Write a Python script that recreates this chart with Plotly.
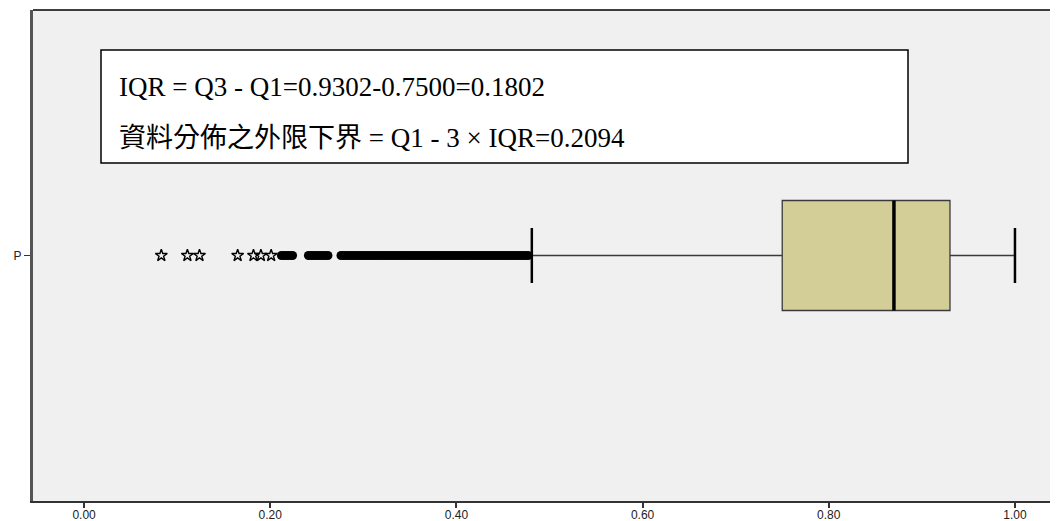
import plotly.graph_objects as go

# ---- data ----
category = "P"
q1 = 0.7500
median = 0.870
q3 = 0.9302
lower_whisker = 0.481
upper_whisker = 1.000

# extreme values (stars, below Q1 - 3*IQR)
extremes = [0.083, 0.111, 0.124, 0.165, 0.182, 0.190, 0.201]

# outliers (circles, between Q1 - 3*IQR and Q1 - 1.5*IQR)
outliers = [0.212, 0.215, 0.218, 0.221, 0.224,
            0.241, 0.244, 0.247, 0.250, 0.253, 0.256, 0.259, 0.262,
            0.276, 0.279, 0.282, 0.285, 0.288, 0.291, 0.294, 0.297, 0.300,
            0.303, 0.306, 0.309, 0.312, 0.315, 0.318, 0.321, 0.324, 0.327,
            0.330, 0.333, 0.336, 0.339, 0.342, 0.345, 0.348, 0.351, 0.354,
            0.357, 0.360, 0.363, 0.366, 0.369, 0.372, 0.375, 0.378, 0.381,
            0.384, 0.387, 0.390, 0.393, 0.396, 0.399, 0.402, 0.405, 0.408,
            0.411, 0.414, 0.417, 0.420, 0.423, 0.426, 0.429, 0.432, 0.435,
            0.438, 0.441, 0.444, 0.447, 0.450, 0.453, 0.456, 0.459, 0.462,
            0.465, 0.468, 0.471, 0.474, 0.477]

x_ticks = [0.0, 0.2, 0.4, 0.6, 0.8, 1.0]
x_ticktext = [f"{v:.2f}" for v in x_ticks]

line1 = "IQR = Q3 - Q1=0.9302-0.7500=0.1802"
line2 = "資料分佈之外限下界 = Q1 - 3 × IQR=0.2094"

# ---- style ----
OFF = 8                      # page body margin
W, H = 1058 - OFF, 521 - OFF
ML, MR, MT, MB = 33 - OFF, 0, 10 - OFF, 20
BOX_W = 0.448
FILL = "#D3CE97"
POS = 0

def px_x(px):   # page pixel -> paper
    return (px - OFF - ML) / (W - ML - MR)

def px_y(py):
    return (H - MB - (py - OFF)) / (H - MT - MB)

fig = go.Figure()

fig.add_trace(go.Box(
    y=[POS], q1=[q1], median=[median], q3=[q3],
    lowerfence=[lower_whisker], upperfence=[upper_whisker],
    orientation="h", width=BOX_W, whiskerwidth=0.5,
    fillcolor=FILL, line=dict(color="#3a3a3a", width=1.3),
    boxpoints=False, showlegend=False, hoverinfo="skip",
))

# thick median line
fig.add_trace(go.Scatter(
    x=[median, median], y=[POS - BOX_W / 2, POS + BOX_W / 2],
    mode="lines", line=dict(color="black", width=3.5),
    showlegend=False, hoverinfo="skip",
))

# whisker caps (thicker)
for w in (lower_whisker, upper_whisker):
    fig.add_trace(go.Scatter(
        x=[w, w], y=[POS - BOX_W / 4, POS + BOX_W / 4],
        mode="lines", line=dict(color="black", width=2.5),
        showlegend=False, hoverinfo="skip",
    ))

fig.add_trace(go.Scatter(
    x=outliers, y=[POS] * len(outliers), mode="markers",
    marker=dict(symbol="circle", size=9, color="black"),
    showlegend=False, hoverinfo="skip",
))

fig.add_trace(go.Scatter(
    x=extremes, y=[POS] * len(extremes), mode="markers",
    marker=dict(symbol="star-open", size=9, color="black",
                line=dict(color="black", width=1.4)),
    showlegend=False, hoverinfo="skip",
))

# annotation box
fig.add_shape(type="rect", xref="paper", yref="paper",
              x0=px_x(101), x1=px_x(908), y0=px_y(163), y1=px_y(50),
              line=dict(color="black", width=1.5), fillcolor="white", layer="above")

fig.add_annotation(x=px_x(117), y=px_y(87), xref="paper", yref="paper",
                   xanchor="left", yanchor="middle", showarrow=False, text=line1,
                   font=dict(family="Liberation Serif, Noto Sans CJK TC", size=27, color="black"))
fig.add_annotation(x=px_x(117), y=px_y(138), xref="paper", yref="paper",
                   xanchor="left", yanchor="middle", showarrow=False, text=line2,
                   font=dict(family="Liberation Serif, Noto Sans CJK TC", size=27, color="black"))

# top frame line
fig.add_shape(type="line", xref="paper", yref="paper", x0=0, x1=1, y0=1, y1=1,
              line=dict(color="black", width=1.5))

x_lo = (33 + 1 - 85) / 930
x_hi = (1058 - 85) / 930

fig.update_layout(
    width=W, height=H,
    margin=dict(l=ML, r=MR, t=MT, b=MB, autoexpand=False),
    paper_bgcolor="white", plot_bgcolor="#F0F0F0",
    font=dict(family="Liberation Sans, Arial", size=12, color="#222"),
    xaxis=dict(range=[x_lo, x_hi], tickvals=x_ticks, ticktext=x_ticktext,
               automargin=False, ticklabelstandoff=-3,
               showgrid=False, zeroline=False, showline=True, linecolor="#333",
               linewidth=2, ticks="outside", ticklen=5, tickwidth=2, tickcolor="#333",
               tickfont=dict(size=12, color="#222")),
    yaxis=dict(range=[-1, 1], tickvals=[POS], ticktext=[category],
               automargin=False,
               showgrid=False, zeroline=False, showline=True, linecolor="#555",
               linewidth=3, ticks="outside", ticklen=6, tickwidth=1, tickcolor="#333",
               tickfont=dict(size=12, color="#222")),
)

fig.write_html("out.html")
